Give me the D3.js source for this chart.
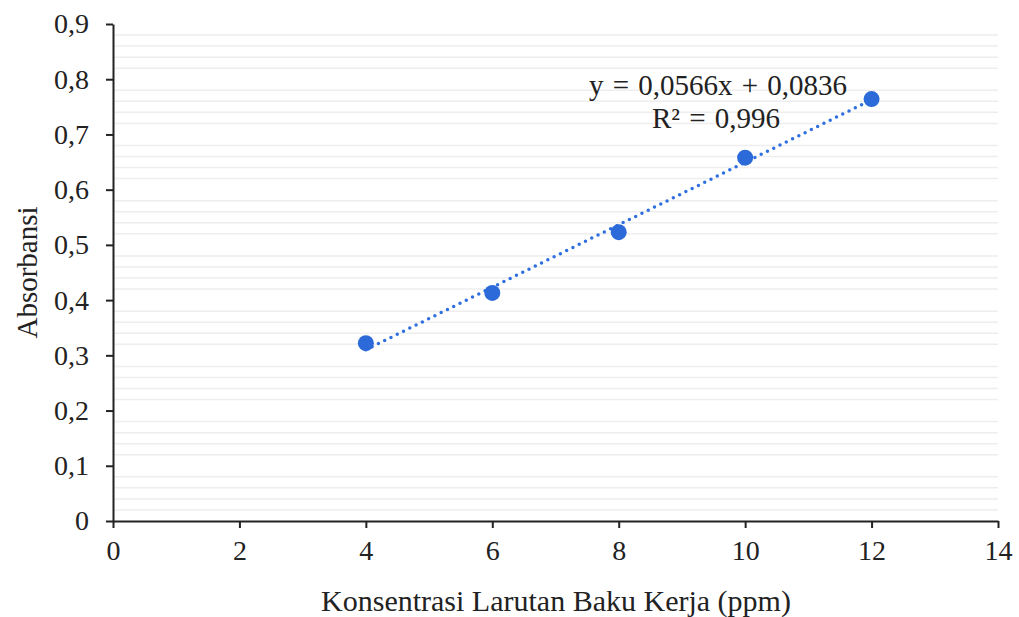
<!DOCTYPE html>
<html lang="id">
<head>
<meta charset="UTF-8">
<title>Kurva Baku</title>
<script src="https://cdn.jsdelivr.net/npm/d3@7"></script>
<style>
  body { margin: 0; background: #fff; }
  svg text { font-family: "Liberation Serif", "Times New Roman", serif; fill: #222; }
</style>
</head>
<body>
<div id="chart"></div>
<script>
const konsentrasi = [4, 6, 8, 10, 12];
const absorbansi = [0.322, 0.413, 0.523, 0.658, 0.764];
const xTicks = [0, 2, 4, 6, 8, 10, 12, 14];
const yTicks = [0, 0.1, 0.2, 0.3, 0.4, 0.5, 0.6, 0.7, 0.8, 0.9];
const slope = 0.0566, intercept = 0.0836;

const w = 1019, h = 617;
const margin = {left: 113, right: 21, top: 24, bottom: 96};

const svg = d3.select("#chart").append("svg")
  .attr("width", w).attr("height", h);

const x = d3.scaleLinear().domain([0, 14]).range([margin.left, w - margin.right]);
const y = d3.scaleLinear().domain([0, 0.9]).range([h - margin.bottom, margin.top]);

const fmt = d => d === 0 ? "0" : d3.format(".1f")(d).replace(".", ",");

// minor gridlines (every 0.02, skipping majors)
const minor = d3.range(0, 0.9001, 0.02).filter(v => Math.abs(v * 10 - Math.round(v * 10)) > 1e-6);
svg.append("g").selectAll("line").data(minor).enter().append("line")
  .attr("x1", x(0)).attr("x2", x(14))
  .attr("y1", d => y(d)).attr("y2", d => y(d))
  .attr("stroke", "#eeeeee").attr("stroke-width", 1.5);

const xAxis = svg.append("g")
  .attr("transform", `translate(0,${y(0)})`)
  .call(d3.axisBottom(x).tickValues(xTicks).tickSize(7).tickSizeOuter(0).tickPadding(12));
const yAxis = svg.append("g")
  .attr("transform", `translate(${x(0)},0)`)
  .call(d3.axisLeft(y).tickValues(yTicks).tickFormat(fmt).tickSize(7).tickSizeOuter(0).tickPadding(17));

[xAxis, yAxis].forEach(g => {
  g.select(".domain").attr("stroke", "#222").attr("stroke-width", 2);
  g.selectAll(".tick line").attr("stroke", "#222").attr("stroke-width", 2);
  g.selectAll(".tick text").attr("font-size", 28).style("font-family", '"Liberation Serif", serif').attr("fill", "#222");
});

// trendline
svg.append("line")
  .attr("x1", x(4)).attr("y1", y(slope * 4 + intercept))
  .attr("x2", x(12)).attr("y2", y(slope * 12 + intercept))
  .attr("stroke", "#2f6fdf").attr("stroke-width", 3.5)
  .attr("stroke-dasharray", "0 7").attr("stroke-linecap", "round");

svg.append("g").selectAll("circle").data(konsentrasi).enter().append("circle")
  .attr("cx", d => x(d)).attr("cy", (d, i) => y(absorbansi[i]))
  .attr("r", 8).attr("fill", "#2b6ad8");

svg.append("text").attr("x", 718).attr("y", 95).attr("text-anchor", "middle")
  .attr("font-size", 29).attr("word-spacing", 2).text("y = 0,0566x + 0,0836");
svg.append("text").attr("x", 716).attr("y", 128).attr("text-anchor", "middle")
  .attr("font-size", 29).attr("word-spacing", 2).text("R² = 0,996");

svg.append("text").attr("x", 556).attr("y", 611).attr("text-anchor", "middle")
  .attr("font-size", 30).text("Konsentrasi Larutan Baku Kerja (ppm)");
svg.append("text").attr("transform", `translate(37,${y(0.45)}) rotate(-90)`)
  .attr("text-anchor", "middle").attr("font-size", 29).text("Absorbansi");
</script>
</body>
</html>
